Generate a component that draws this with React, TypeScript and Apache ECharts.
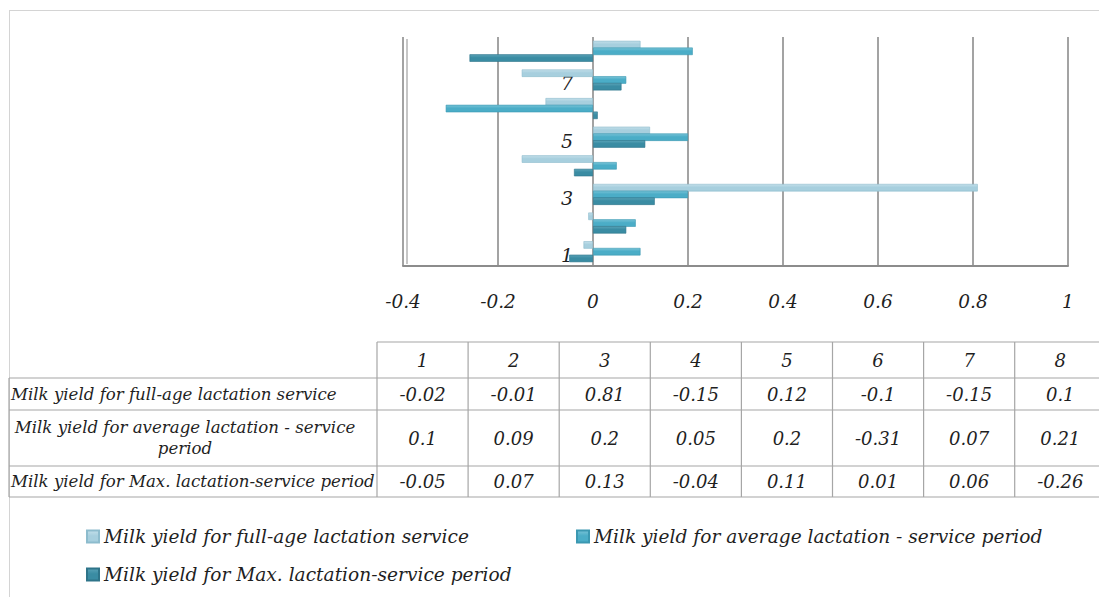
import React, { useEffect, useRef } from "react";
import * as echarts from "echarts";

// Correlation coefficients per lactation (1..8)
const categories = ["1", "2", "3", "4", "5", "6", "7", "8"];
const fullAge = [-0.02, -0.01, 0.81, -0.15, 0.12, -0.1, -0.15, 0.1];
const averagePeriod = [0.1, 0.09, 0.2, 0.05, 0.2, -0.31, 0.07, 0.21];
const maxPeriod = [-0.05, 0.07, 0.13, -0.04, 0.11, 0.01, 0.06, -0.26];

const seriesNames = [
  "Milk yield for full-age lactation service",
  "Milk yield for average lactation - service period",
  "Milk yield for Max. lactation-service period",
];
const seriesValues = [fullAge, averagePeriod, maxPeriod];
const seriesColors = ["#A7CFDE", "#4BADC7", "#3A8CA3"];
const seriesTops = ["#C3DFEA", "#78C3D7", "#5AA3B7"];
const seriesBorders = ["#8DBCCD", "#3B98B1", "#2E7489"];

const X_MIN = -0.4;
const X_MAX = 1;
const X_STEP = 0.2;

const FONT = "'DejaVu Serif', 'Liberation Serif', serif";
const TEXT_COLOR = "#1f1f1f";
const RULE_COLOR = "#a6a6a6";
const AXIS_GREY = "#8c8c8c";

// Data table geometry under the plot
const TABLE_LEFT = 9;
const LABEL_COL_RIGHT = 377;
const COL_WIDTH = 91.1;
const ROW_LINES = [342, 378, 410, 466, 497];

function splitLabel(name: string, maxChars: number): string {
  if (name.length <= maxChars) return name;
  const cut = name.lastIndexOf(" ", maxChars);
  return name.slice(0, cut) + "\n" + name.slice(cut + 1);
}

function buildTable(): any[] {
  const els: any[] = [];
  const right = LABEL_COL_RIGHT + COL_WIDTH * categories.length;
  const line = (x1: number, y1: number, x2: number, y2: number) => ({
    type: "line",
    shape: { x1, y1, x2, y2 },
    style: { stroke: RULE_COLOR, lineWidth: 1.2 },
    silent: true,
  });
  // horizontal rules
  els.push(line(LABEL_COL_RIGHT, ROW_LINES[0], right, ROW_LINES[0]));
  for (let r = 1; r < ROW_LINES.length; r++) {
    els.push(line(TABLE_LEFT, ROW_LINES[r], right, ROW_LINES[r]));
  }
  // vertical rules
  els.push(line(TABLE_LEFT, ROW_LINES[1], TABLE_LEFT, ROW_LINES[ROW_LINES.length - 1]));
  for (let c = 0; c <= categories.length; c++) {
    const x = LABEL_COL_RIGHT + c * COL_WIDTH;
    els.push(line(x, ROW_LINES[0], x, ROW_LINES[ROW_LINES.length - 1]));
  }
  const cellText = (text: string, x: number, y: number, align: string, size: number) => ({
    type: "text",
    x,
    y,
    silent: true,
    style: {
      text,
      fill: TEXT_COLOR,
      font: `italic ${size}px ${FONT}`,
      align,
      verticalAlign: "middle",
      lineHeight: size + 4,
    },
  });
  // header row: category numbers
  categories.forEach((cat, c) => {
    const cx = LABEL_COL_RIGHT + (c + 0.5) * COL_WIDTH;
    els.push(cellText(cat, cx, (ROW_LINES[0] + ROW_LINES[1]) / 2, "center", 18));
  });
  // one row per series
  seriesNames.forEach((name, r) => {
    const cy = (ROW_LINES[r + 1] + ROW_LINES[r + 2]) / 2;
    const label = splitLabel(name, 44);
    if (label.includes("\n")) {
      els.push(cellText(label, (TABLE_LEFT + LABEL_COL_RIGHT) / 2 - 8, cy, "center", 16.6));
    } else {
      els.push(cellText(label, TABLE_LEFT + 2, cy, "left", 16.6));
    }
    seriesValues[r].forEach((v, c) => {
      const cx = LABEL_COL_RIGHT + (c + 0.5) * COL_WIDTH;
      els.push(cellText(String(v), cx, cy, "center", 18));
    });
  });
  return els;
}

export default function App() {
  const ref = useRef<HTMLDivElement>(null);

  useEffect(() => {
    if (!ref.current) return;
    const chart = echarts.init(ref.current, null, { renderer: "svg" });

    const legendPos = [
      { left: 86, top: 527 },
      { left: 576, top: 527 },
      { left: 86, top: 565 },
    ];

    chart.setOption({
      animation: false,
      backgroundColor: "#ffffff",
      grid: { left: 403, right: 31, top: 37, bottom: 331, containLabel: false },
      xAxis: {
        type: "value",
        min: X_MIN,
        max: X_MAX,
        interval: X_STEP,
        axisLine: { show: true, onZero: false, lineStyle: { color: AXIS_GREY, width: 2 } },
        axisTick: { show: false },
        splitLine: { show: true, lineStyle: { color: AXIS_GREY, width: 1.6 } },
        axisLabel: {
          margin: 26,
          color: TEXT_COLOR,
          fontFamily: FONT,
          fontStyle: "italic",
          fontSize: 18.5,
        },
      },
      yAxis: {
        type: "category",
        data: categories,
        axisLine: { show: false, onZero: false },
        axisTick: { show: false },
        splitLine: { show: false },
        axisLabel: {
          interval: 1,
          margin: 20,
          formatter: (v: string) => `{c|${v}}`,
          rich: {
            c: {
              color: TEXT_COLOR,
              fontFamily: FONT,
              fontStyle: "italic",
              fontSize: 19,
              padding: [7, 0, 0, 0],
            },
          },
        },
      },
      legend: seriesNames.map((name, i) => ({
        data: [name],
        left: legendPos[i].left,
        top: legendPos[i].top,
        padding: 0,
        orient: "horizontal",
        icon: "rect",
        itemWidth: 12,
        itemHeight: 12,
        selectedMode: false,
        textStyle: {
          color: TEXT_COLOR,
          fontFamily: FONT,
          fontStyle: "italic",
          fontSize: 18.6,
        },
      })),
      series: seriesNames.map((name, i) => ({
        name,
        type: "bar",
        data: seriesValues[i],
        barWidth: 7.5,
        barGap: "-10%",
        itemStyle: {
          color: new echarts.graphic.LinearGradient(0, 0, 0, 1, [
            { offset: 0, color: seriesTops[i] },
            { offset: 0.45, color: seriesColors[i] },
            { offset: 1, color: seriesColors[i] },
          ]),
          borderColor: seriesBorders[i],
          borderWidth: 0.6,
        },
      })),
      graphic: [
        // outer frame of the chart area
        {
          type: "line",
          shape: { x1: 9, y1: 10.5, x2: 1099, y2: 10.5 },
          style: { stroke: "#d4d4d4", lineWidth: 1 },
          silent: true,
        },
        {
          type: "line",
          shape: { x1: 9.5, y1: 10, x2: 9.5, y2: 597 },
          style: { stroke: "#d4d4d4", lineWidth: 1 },
          silent: true,
        },
        // inner edge of the side wall
        {
          type: "line",
          shape: { x1: 407, y1: 39, x2: 407, y2: 264 },
          style: { stroke: "#a0a0a0", lineWidth: 1.2 },
          silent: true,
        },
        ...buildTable(),
      ],
    });

    // Category labels sit beside the zero line: shift the y axis to x = 0.
    const leftEdge = chart.convertToPixel({ xAxisIndex: 0 }, X_MIN) as number;
    const zeroX = chart.convertToPixel({ xAxisIndex: 0 }, 0) as number;
    chart.setOption({ yAxis: { offset: leftEdge - zeroX } });

    return () => chart.dispose();
  }, []);

  return (
    <div
      ref={ref}
      style={{ position: "fixed", left: 0, top: 0, width: 1099, height: 597 }}
    />
  );
}
